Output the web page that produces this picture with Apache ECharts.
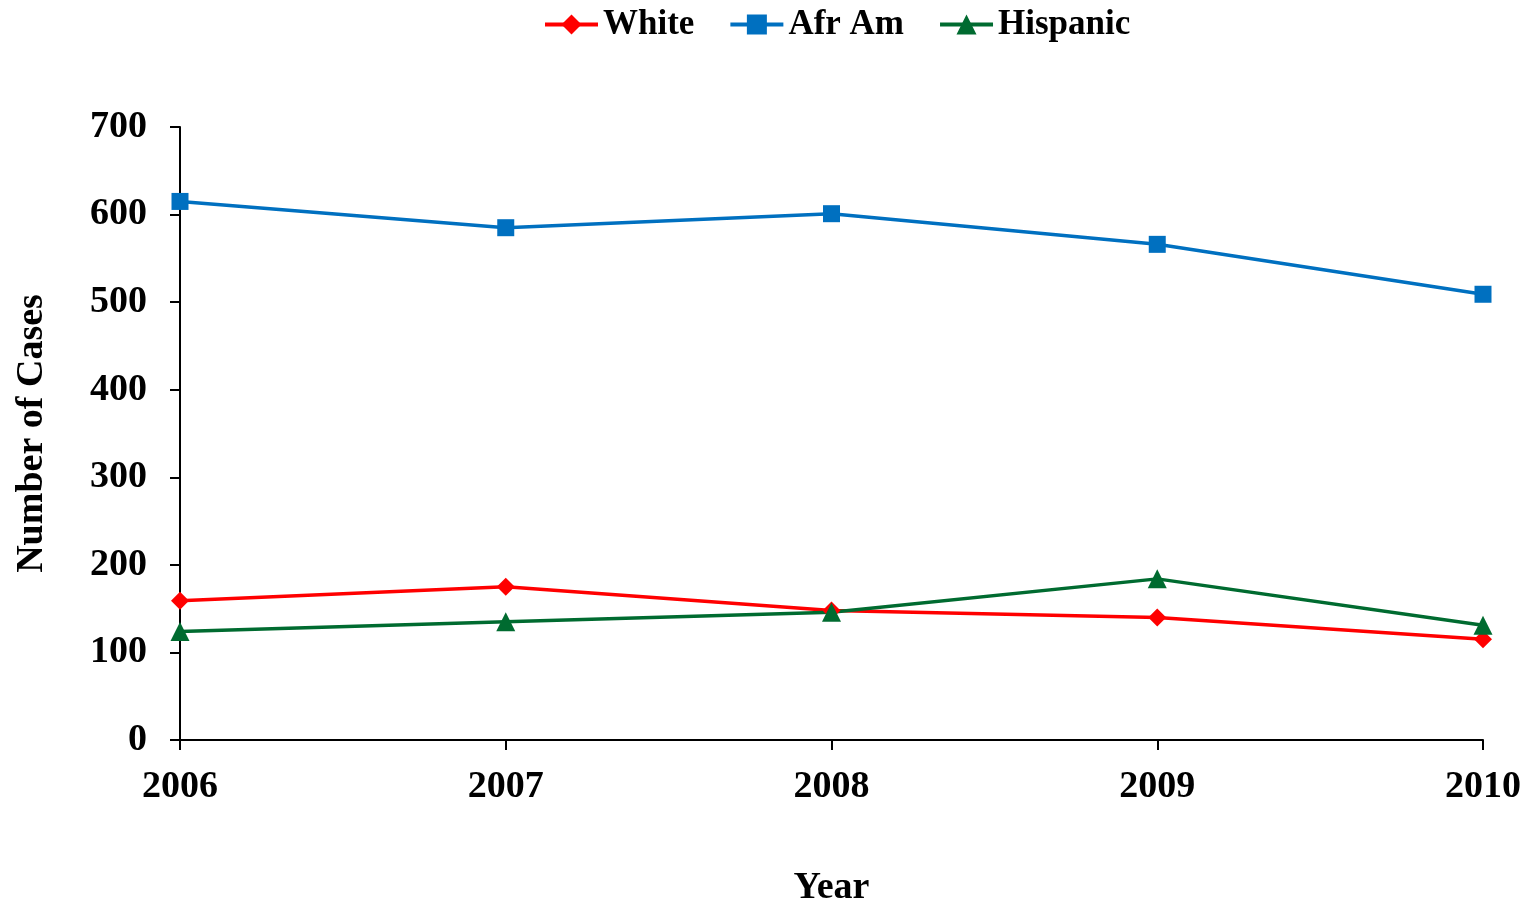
<!DOCTYPE html>
<html>
<head>
<meta charset="utf-8">
<script src="https://cdn.jsdelivr.net/npm/echarts@6/dist/echarts.min.js"></script>
<style>
  html, body { margin: 0; padding: 0; background: #fff; }
  #chart { width: 1525px; height: 902px; }
</style>
</head>
<body>
<div id="chart"></div>
<script>
// Cases per year by group
const years = ['2006', '2007', '2008', '2009', '2010'];
const white = [159, 175, 148, 140, 115];
const afrAm = [615, 585, 601, 566, 509];
const hispanic = [124, 135, 146, 184, 131];
const yTicks = { min: 0, max: 700, interval: 100 };

const font = '"Liberation Serif", "Times New Roman", serif';

const chart = echarts.init(document.getElementById('chart'));

function lineSeries(name, data, color, symbol, size) {
  return {
    name: name,
    type: 'line',
    data: data,
    symbol: symbol,
    symbolSize: size,
    lineStyle: { color: color, width: 3.5 },
    itemStyle: { color: color },
    animation: false
  };
}

chart.setOption({
  backgroundColor: '#ffffff',
  legend: {
    top: 2,
    left: 538,
    itemWidth: 53,
    itemHeight: 25,
    itemGap: 34,
    lineStyle: { width: 4 },
    textStyle: { fontFamily: font, fontWeight: 'bold', fontSize: 35, color: '#000' },
    data: ['White', 'Afr Am', 'Hispanic']
  },
  grid: { left: 180, right: 42, top: 127, bottom: 162, containLabel: false, outerBoundsMode: 'none' },
  xAxis: {
    type: 'category',
    data: years,
    boundaryGap: false,
    name: 'Year',
    nameLocation: 'middle',
    nameGap: 129,
    nameTextStyle: { fontFamily: font, fontWeight: 'bold', fontSize: 38, color: '#000' },
    axisLine: { lineStyle: { color: '#000', width: 2 } },
    axisTick: { show: true, length: 10, lineStyle: { color: '#000', width: 2 }, alignWithLabel: true },
    axisLabel: { fontFamily: font, fontWeight: 'bold', fontSize: 38, color: '#000', margin: 28 },
    splitLine: { show: false }
  },
  yAxis: {
    type: 'value',
    min: yTicks.min,
    max: yTicks.max,
    interval: yTicks.interval,
    name: 'Number of Cases',
    nameLocation: 'middle',
    nameGap: 129,
    nameRotate: 90,
    nameTextStyle: { fontFamily: font, fontWeight: 'bold', fontSize: 38, color: '#000' },
    axisLine: { show: true, lineStyle: { color: '#000', width: 2 } },
    axisTick: { show: true, length: 10, lineStyle: { color: '#000', width: 2 } },
    axisLabel: { fontFamily: font, fontWeight: 'bold', fontSize: 38, color: '#000', margin: 33 },
    splitLine: { show: false }
  },
  series: [
    lineSeries('White', white, '#ff0000', 'diamond', 18),
    lineSeries('Afr Am', afrAm, '#0070c0', 'rect', 17),
    lineSeries('Hispanic', hispanic, '#006b30', 'triangle', 19)
  ]
});
</script>
</body>
</html>
